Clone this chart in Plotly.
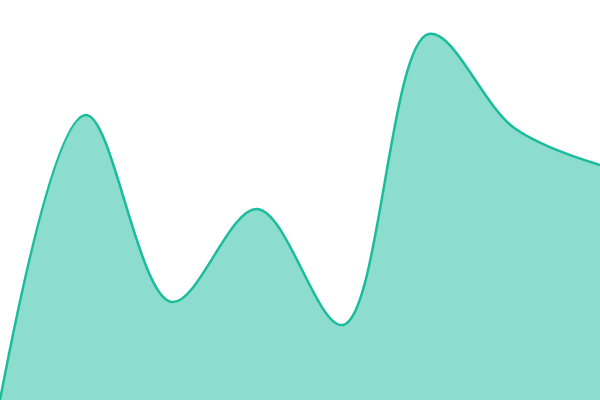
import plotly.graph_objects as go

# categories along the x axis and the series values
steps = [0, 1, 2, 3, 4, 5, 6, 7]
values = [0, 285, 98, 191, 75, 366, 272, 235]

fig = go.Figure(data=go.Scatter(
    x=steps, y=values,
    mode='lines',
    line=dict(color='#1abc9c', width=2.5, shape='spline', smoothing=1.0),
    fill='tozeroy',
    fillcolor='rgba(26,188,156,0.5)',
))
fig.update_layout(
    width=600, height=400,
    margin=dict(l=0, r=0, t=0, b=0),
    paper_bgcolor='white', plot_bgcolor='white',
    showlegend=False,
    xaxis=dict(visible=False, range=[0, 7]),
    yaxis=dict(visible=False, range=[0, 400]),
)
# drop the default page margin so the chart sits in the corner
fig.write_html("out.html", config={'displayModeBar': False},
               post_script="document.body.style.margin='0';")
